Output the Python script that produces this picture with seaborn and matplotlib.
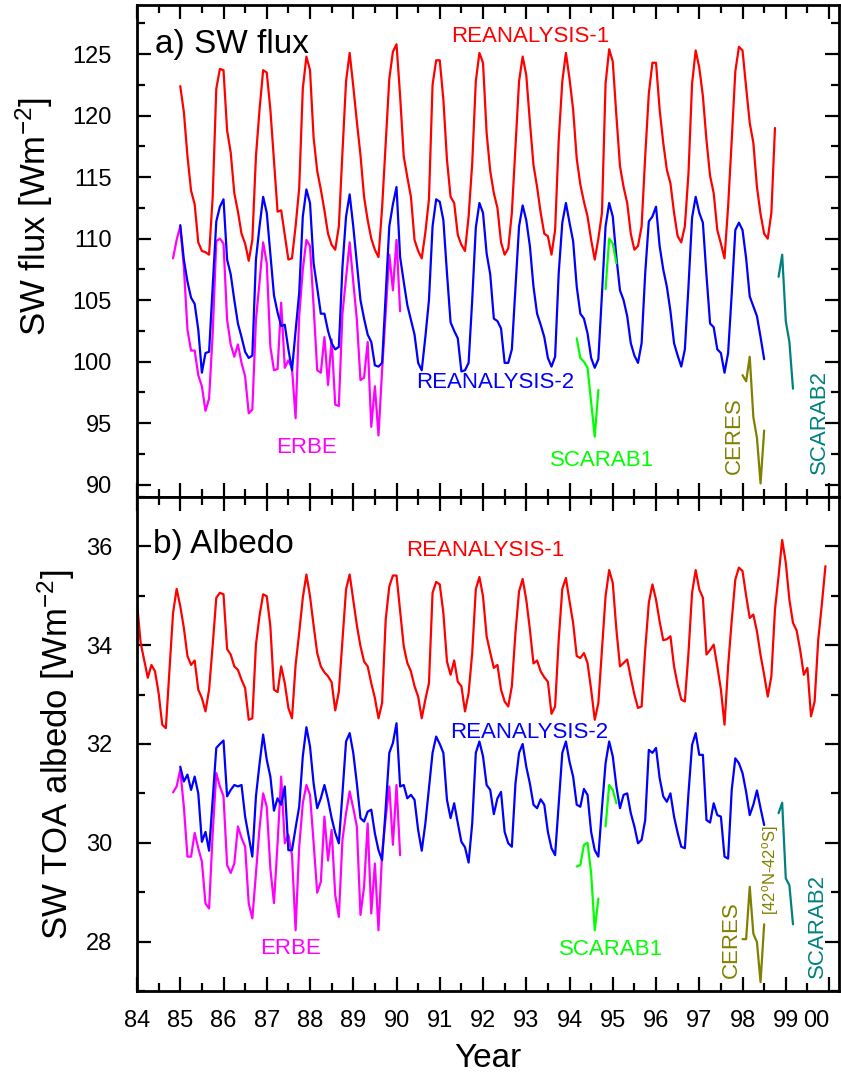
import numpy as np
import pandas as pd
import matplotlib
matplotlib.use('Agg')
import matplotlib.pyplot as plt
from matplotlib.ticker import MultipleLocator, FixedLocator
import seaborn as sns

## Data: monthly values (start year, values)
r1_flux_start = 85.0
r1_flux = [
    122.4, 120.3, 116.7, 113.9, 112.8, 109.7, 109.0, 108.9, 108.7, 113.4, 122.2, 123.8,
    123.7, 118.8, 117.0, 113.7, 112.2, 110.4, 109.6, 108.2, 109.9, 116.7, 120.5, 123.7,
    123.5, 120.5, 116.3, 112.2, 112.3, 110.3, 108.3, 108.4, 111.0, 114.1, 122.2, 124.8,
    123.7, 118.2, 115.5, 114.0, 112.3, 110.4, 109.5, 109.1, 111.0, 117.0, 122.8, 125.1,
    122.4, 119.5, 116.8, 113.4, 111.5, 110.0, 109.1, 108.5, 112.5, 117.8, 123.0, 125.2,
    125.8, 121.6, 116.7, 115.0, 113.4, 109.9, 109.0, 108.4, 110.5, 113.2, 122.5, 124.5,
    124.5, 121.3, 116.4, 113.4, 112.9, 110.3, 109.5, 109.0, 111.8, 116.1, 122.8, 125.1,
    124.3, 118.6, 115.5, 113.7, 112.5, 109.7, 108.7, 109.2, 112.1, 117.5, 122.8, 124.8,
    123.3, 119.5, 116.0, 114.2, 112.1, 110.4, 110.2, 108.7, 110.7, 118.0, 122.8, 125.1,
    123.0, 120.5, 116.5, 114.4, 113.0, 111.8, 109.9, 108.3, 110.0, 112.1, 122.6, 125.4,
    124.4, 120.0, 115.9, 114.2, 112.9, 110.4, 109.1, 109.4, 111.0, 116.7, 121.8, 124.3,
    124.3, 120.5, 117.8, 115.6, 114.5, 112.1, 110.2, 109.7, 111.0, 115.3, 122.6, 125.3,
    123.9, 121.6, 118.0, 115.1, 113.7, 110.7, 109.6, 108.4, 112.6, 118.0, 123.6, 125.6,
    125.3, 122.3, 119.4, 117.8, 114.2, 112.0, 110.4, 110.0, 112.1, 119.0,
]
r2_flux_start = 85.0
r2_flux = [
    111.1, 108.3, 106.5, 105.2, 104.7, 102.6, 99.1, 100.7, 100.8, 106.1, 111.4, 112.6,
    113.2, 108.3, 107.1, 105.0, 103.1, 102.0, 100.8, 100.3, 100.5, 108.3, 111.0, 113.4,
    112.1, 108.8, 105.4, 104.0, 102.9, 103.0, 101.0, 99.3, 102.5, 105.6, 111.8, 114.0,
    112.9, 108.0, 106.0, 103.9, 103.9, 102.5, 101.5, 101.0, 101.2, 107.7, 111.8, 113.6,
    111.0, 108.0, 105.0, 103.5, 102.2, 101.6, 99.7, 99.6, 99.9, 105.5, 111.0, 112.8,
    114.2, 108.5, 106.5, 104.6, 103.4, 102.2, 99.9, 99.3, 102.0, 105.0, 111.0, 113.2,
    113.0, 111.5, 107.2, 103.2, 102.5, 101.9, 99.2, 99.3, 99.9, 105.0, 110.9, 112.9,
    112.1, 108.8, 107.1, 103.5, 103.3, 102.7, 99.9, 99.9, 101.0, 106.0, 111.0, 112.7,
    111.5, 109.4, 106.1, 103.9, 103.0, 102.0, 100.3, 99.6, 100.4, 107.2, 111.3, 112.9,
    111.3, 109.8, 106.1, 103.9, 103.5, 102.3, 100.3, 99.5, 100.2, 105.5, 111.0, 112.9,
    111.8, 108.5, 105.8, 105.0, 103.7, 101.5, 100.5, 99.9, 101.5, 107.2, 111.4, 111.8,
    112.6, 109.4, 107.5, 106.1, 104.1, 101.5, 100.5, 99.6, 101.0, 106.1, 111.7, 113.4,
    112.1, 111.3, 107.0, 103.1, 102.8, 101.0, 100.7, 99.1, 100.7, 105.5, 110.7, 111.3,
    110.7, 108.4, 105.3, 104.5, 103.7, 102.0, 100.2,
]
erbe_flux_start = 84 + 10 / 12
erbe_flux = [
    108.4, 109.9,
    111.0, 107.7, 102.6, 100.9, 100.9, 98.9, 98.0, 96.0, 97.0, 102.3, 109.8, 110.0,
    109.6, 103.4, 101.4, 100.4, 101.4, 99.9, 98.8, 95.8, 96.1, 103.4, 106.5, 109.7,
    108.0, 101.2, 99.3, 99.4, 104.8, 99.5, 100.1, 99.5, 95.4, 103.7, 107.5, 109.9,
    109.4, 104.5, 99.3, 99.1, 102.0, 98.1, 101.8, 96.5, 96.4, 103.9, 106.8, 109.7,
    106.5, 103.4, 98.5, 98.7, 101.6, 94.7, 98.0, 94.0, 99.3, 104.0, 108.7, 105.8,
    109.9, 104.1,
]
scarab1_flux_start = 94 + 2 / 12
scarab1_flux = [101.9, 100.3, 100.0, 99.5, 96.7, 93.9, 97.7, np.nan, 105.9, 110.0, 109.6, 108.0]
ceres_flux_start = 98.0
ceres_flux = [98.9, 98.4, 100.4, 95.5, 93.8, 90.1, 94.4]
scarab2_flux_start = 98 + 10 / 12
scarab2_flux = [106.9, 108.7, 103.3, 101.6, 97.8]

r1_alb_start = 84.0
r1_alb = [
    34.86, 34.05, 33.70, 33.34, 33.60, 33.47, 33.03, 32.39, 32.32, 33.50, 34.65, 35.14,
    34.79, 34.35, 33.78, 33.60, 33.69, 33.10, 32.93, 32.66, 33.10, 34.00, 34.96, 35.06,
    35.03, 33.92, 33.81, 33.57, 33.50, 33.30, 33.13, 32.49, 32.52, 34.01, 34.60, 35.03,
    34.99, 34.38, 33.10, 33.05, 33.57, 33.23, 32.73, 32.52, 33.60, 34.25, 34.96, 35.43,
    34.99, 34.40, 33.84, 33.57, 33.45, 33.37, 33.25, 32.68, 33.06, 34.10, 35.13, 35.43,
    34.92, 34.40, 33.98, 33.67, 33.57, 33.23, 32.93, 32.52, 32.83, 34.52, 35.19, 35.41,
    35.41, 34.70, 33.98, 33.64, 33.47, 33.17, 32.96, 32.52, 32.90, 33.23, 35.06, 35.28,
    35.23, 34.65, 33.67, 33.40, 33.69, 33.26, 33.17, 32.66, 33.03, 33.84, 35.13, 35.38,
    34.99, 34.18, 33.85, 33.54, 33.60, 33.10, 32.86, 32.76, 33.17, 34.25, 35.09, 35.34,
    34.92, 34.32, 33.63, 33.69, 33.47, 33.35, 33.26, 32.61, 32.76, 34.11, 35.14, 35.36,
    34.89, 34.45, 33.78, 33.74, 33.84, 33.64, 33.10, 32.49, 32.83, 33.90, 34.99, 35.52,
    35.26, 34.32, 33.57, 33.64, 33.71, 33.34, 33.00, 32.73, 32.76, 33.91, 34.86, 35.23,
    34.92, 34.48, 34.10, 34.12, 34.18, 33.57, 33.20, 32.90, 32.86, 33.84, 35.06, 35.52,
    35.13, 34.96, 33.81, 33.90, 34.01, 33.57, 33.10, 32.39, 33.57, 34.50, 35.33, 35.57,
    35.50, 35.00, 34.55, 34.62, 34.28, 33.80, 33.40, 32.96, 33.37, 34.72, 35.40, 36.13,
    35.67, 34.92, 34.45, 34.30, 33.90, 33.40, 33.54, 32.56, 32.86, 34.11, 34.82, 35.60,
]
r2_alb_start = 85.0
r2_alb = [
    31.54, 31.24, 31.38, 31.07, 31.34, 31.00, 30.02, 30.22, 29.84, 30.87, 31.92, 32.00,
    32.07, 30.94, 31.07, 31.17, 31.14, 31.17, 30.53, 30.12, 29.72, 30.94, 31.60, 32.19,
    31.68, 31.34, 30.65, 30.90, 30.77, 31.14, 29.85, 29.85, 30.30, 30.73, 31.75, 32.34,
    31.95, 31.20, 30.70, 30.90, 31.17, 30.87, 30.50, 30.20, 29.99, 31.00, 32.05, 32.22,
    31.82, 31.20, 30.50, 30.43, 30.63, 30.67, 30.19, 29.85, 29.65, 30.70, 31.82, 32.02,
    32.42, 31.14, 31.17, 30.90, 30.97, 30.87, 30.26, 29.84, 30.39, 31.10, 31.82, 32.15,
    32.00, 31.82, 30.87, 30.50, 30.80, 30.40, 30.02, 29.91, 29.60, 30.39, 31.82, 32.05,
    31.75, 31.17, 31.07, 30.58, 30.90, 31.03, 30.22, 29.99, 29.92, 31.20, 31.82, 32.00,
    31.54, 31.20, 30.77, 30.70, 30.88, 30.77, 30.22, 29.89, 29.75, 30.80, 31.82, 32.05,
    31.64, 31.34, 30.77, 30.73, 31.09, 30.97, 30.22, 29.85, 29.72, 30.70, 31.61, 32.05,
    31.75, 31.14, 30.70, 30.97, 31.00, 30.60, 30.33, 29.99, 30.06, 30.46, 31.88, 31.82,
    31.92, 31.31, 30.94, 30.83, 31.00, 30.53, 30.20, 29.92, 29.89, 31.00, 31.98, 32.22,
    31.78, 31.78, 30.46, 30.41, 30.80, 30.56, 30.53, 29.72, 29.68, 31.07, 31.71, 31.61,
    31.41, 31.03, 30.56, 30.77, 31.06, 30.70, 30.36,
]
erbe_alb_start = 84 + 10 / 12
erbe_alb = [
    31.02, 31.14,
    31.48, 30.73, 29.72, 29.72, 30.20, 29.89, 29.62, 28.77, 28.67, 30.19, 31.41, 31.14,
    30.94, 29.55, 29.39, 29.58, 30.33, 30.10, 29.92, 28.77, 28.47, 29.38, 30.30, 31.00,
    30.73, 29.48, 28.78, 29.99, 31.34, 29.99, 30.16, 29.75, 28.23, 29.92, 30.80, 31.17,
    30.97, 30.00, 28.99, 29.21, 30.53, 29.64, 30.26, 28.94, 28.50, 30.06, 30.60, 31.04,
    30.70, 30.33, 28.54, 29.11, 30.39, 28.57, 29.58, 28.23, 29.79, 30.50, 31.14, 29.96,
    31.17, 29.75,
]
scarab1_alb_start = 94 + 2 / 12
scarab1_alb = [29.52, 29.55, 29.96, 30.00, 29.38, 28.23, 28.87, np.nan, 30.33, 31.17, 31.07, 30.80]
ceres_alb_start = 98.0
ceres_alb = [28.05, 28.05, 29.11, 28.16, 27.99, 27.18, 28.35]
scarab2_alb_start = 98 + 10 / 12
scarab2_alb = [30.60, 30.81, 29.28, 29.14, 28.35]

year_ticks = list(range(84, 101))
year_labels = [f'{y % 100:02d}' for y in year_ticks]

colors = {'REANALYSIS-1': '#ff0000', 'ERBE': '#ff00ff', 'REANALYSIS-2': '#0000ff',
          'SCARAB1': '#00ff00', 'CERES': '#808000', 'SCARAB2': '#008080'}


def monthly(start, values, name):
    v = np.array(values, dtype=float)
    df = pd.DataFrame({'year': start + np.arange(len(v)) / 12, 'value': v, 'series': name})
    df['unit'] = name + np.cumsum(np.isnan(v)).astype(str)
    return df.dropna()


flux = pd.concat([
    monthly(r1_flux_start, r1_flux, 'REANALYSIS-1'),
    monthly(erbe_flux_start, erbe_flux, 'ERBE'),
    monthly(r2_flux_start, r2_flux, 'REANALYSIS-2'),
    monthly(scarab1_flux_start, scarab1_flux, 'SCARAB1'),
    monthly(ceres_flux_start, ceres_flux, 'CERES'),
    monthly(scarab2_flux_start, scarab2_flux, 'SCARAB2'),
])
albedo = pd.concat([
    monthly(r1_alb_start, r1_alb, 'REANALYSIS-1'),
    monthly(erbe_alb_start, erbe_alb, 'ERBE'),
    monthly(r2_alb_start, r2_alb, 'REANALYSIS-2'),
    monthly(scarab1_alb_start, scarab1_alb, 'SCARAB1'),
    monthly(ceres_alb_start, ceres_alb, 'CERES'),
    monthly(scarab2_alb_start, scarab2_alb, 'SCARAB2'),
])

## Style
sns.set_style('ticks')
plt.rcParams['font.family'] = ['Liberation Sans', 'DejaVu Sans']
plt.rcParams['mathtext.fontset'] = 'custom'
plt.rcParams['mathtext.rm'] = 'Liberation Sans'
plt.rcParams['mathtext.it'] = 'Liberation Sans'
for key in ('axes.edgecolor', 'axes.labelcolor', 'text.color', 'xtick.color', 'ytick.color'):
    plt.rcParams[key] = 'black'

fig = plt.figure(figsize=(8.41, 10.78), dpi=100)
ax1 = fig.add_axes([0.1629, 0.5390, 0.8347, 0.4564])
ax2 = fig.add_axes([0.1629, 0.0807, 0.8347, 0.4583])

for ax, data in ((ax1, flux), (ax2, albedo)):
    sns.lineplot(data=data, x='year', y='value', hue='series', units='unit',
                 estimator=None, sort=False, palette=colors, linewidth=1.6,
                 legend=False, ax=ax)
    ax.set_xlim(84, 100.23)
    ax.xaxis.set_major_locator(FixedLocator(year_ticks))
    ax.xaxis.set_minor_locator(MultipleLocator(0.5))
    ax.tick_params(which='both', direction='in', top=True, right=True,
                   width=1.6, labelsize=17, pad=14, color='black')
    ax.tick_params(which='major', length=10)
    ax.tick_params(which='minor', length=6)
    for sp in ax.spines.values():
        sp.set_linewidth(2)
        sp.set_color('black')
    ax.set_xlabel('')

ax1.set_ylim(89, 129)
ax1.yaxis.set_major_locator(FixedLocator(range(90, 126, 5)))
ax1.yaxis.set_minor_locator(MultipleLocator(2.5))
ax1.tick_params(labelbottom=False)
ax1.tick_params(axis='y', pad=18)
ax1.set_ylabel('SW flux [Wm$^{-2}$]', fontsize=25)
ax1.yaxis.set_label_coords(-0.117, 0.57)

ax2.set_ylim(27, 37)
ax2.yaxis.set_major_locator(FixedLocator(range(28, 37, 2)))
ax2.yaxis.set_minor_locator(MultipleLocator(1))
ax2.tick_params(axis='y', pad=18)
ax2.set_xticks(year_ticks)
ax2.set_xticklabels(year_labels)
ax2.get_xticklabels()[-1].set_horizontalalignment('right')
ax2.set_ylabel('SW TOA albedo [Wm$^{-2}$]', fontsize=25)
ax2.yaxis.set_label_coords(-0.085, 0.478)
ax2.set_xlabel('Year', fontsize=24)
ax2.xaxis.set_label_coords(0.5, -0.105)

## Labels
ax1.text(84.42, 125.8, 'a) SW flux', fontsize=24, va='center')
ax1.text(93.09, 126.4, 'REANALYSIS-1', color=colors['REANALYSIS-1'], fontsize=16, ha='center', va='center')
ax1.text(92.29, 98.3, 'REANALYSIS-2', color=colors['REANALYSIS-2'], fontsize=16, ha='center', va='center')
ax1.text(87.91, 93.0, 'ERBE', color=colors['ERBE'], fontsize=16, ha='center', va='center')
ax1.text(94.76, 92.0, 'SCARAB1', color=colors['SCARAB1'], fontsize=16, ha='center', va='center')
ax1.text(97.8, 94.0, 'CERES', color=colors['CERES'], fontsize=16, ha='center', va='center', rotation=90)
ax1.text(99.79, 95.1, 'SCARAB2', color=colors['SCARAB2'], fontsize=16, ha='center', va='center', rotation=90)

ax2.text(84.37, 36.04, 'b) Albedo', fontsize=24, va='center')
ax2.text(92.06, 35.92, 'REANALYSIS-1', color=colors['REANALYSIS-1'], fontsize=16, ha='center', va='center')
ax2.text(93.07, 32.23, 'REANALYSIS-2', color=colors['REANALYSIS-2'], fontsize=16, ha='center', va='center')
ax2.text(87.56, 27.87, 'ERBE', color=colors['ERBE'], fontsize=16, ha='center', va='center')
ax2.text(94.95, 27.83, 'SCARAB1', color=colors['SCARAB1'], fontsize=16, ha='center', va='center')
ax2.text(97.75, 28.03, 'CERES', color=colors['CERES'], fontsize=16, ha='center', va='center', rotation=90)
ax2.text(98.65, 29.45, '[42$^{\\rm o}$N-42$^{\\rm o}$S]', color=colors['CERES'], fontsize=12,
         ha='center', va='center', rotation=90)
ax2.text(99.74, 28.31, 'SCARAB2', color=colors['SCARAB2'], fontsize=16, ha='center', va='center', rotation=90)

fig.savefig('out.png', dpi=100)
